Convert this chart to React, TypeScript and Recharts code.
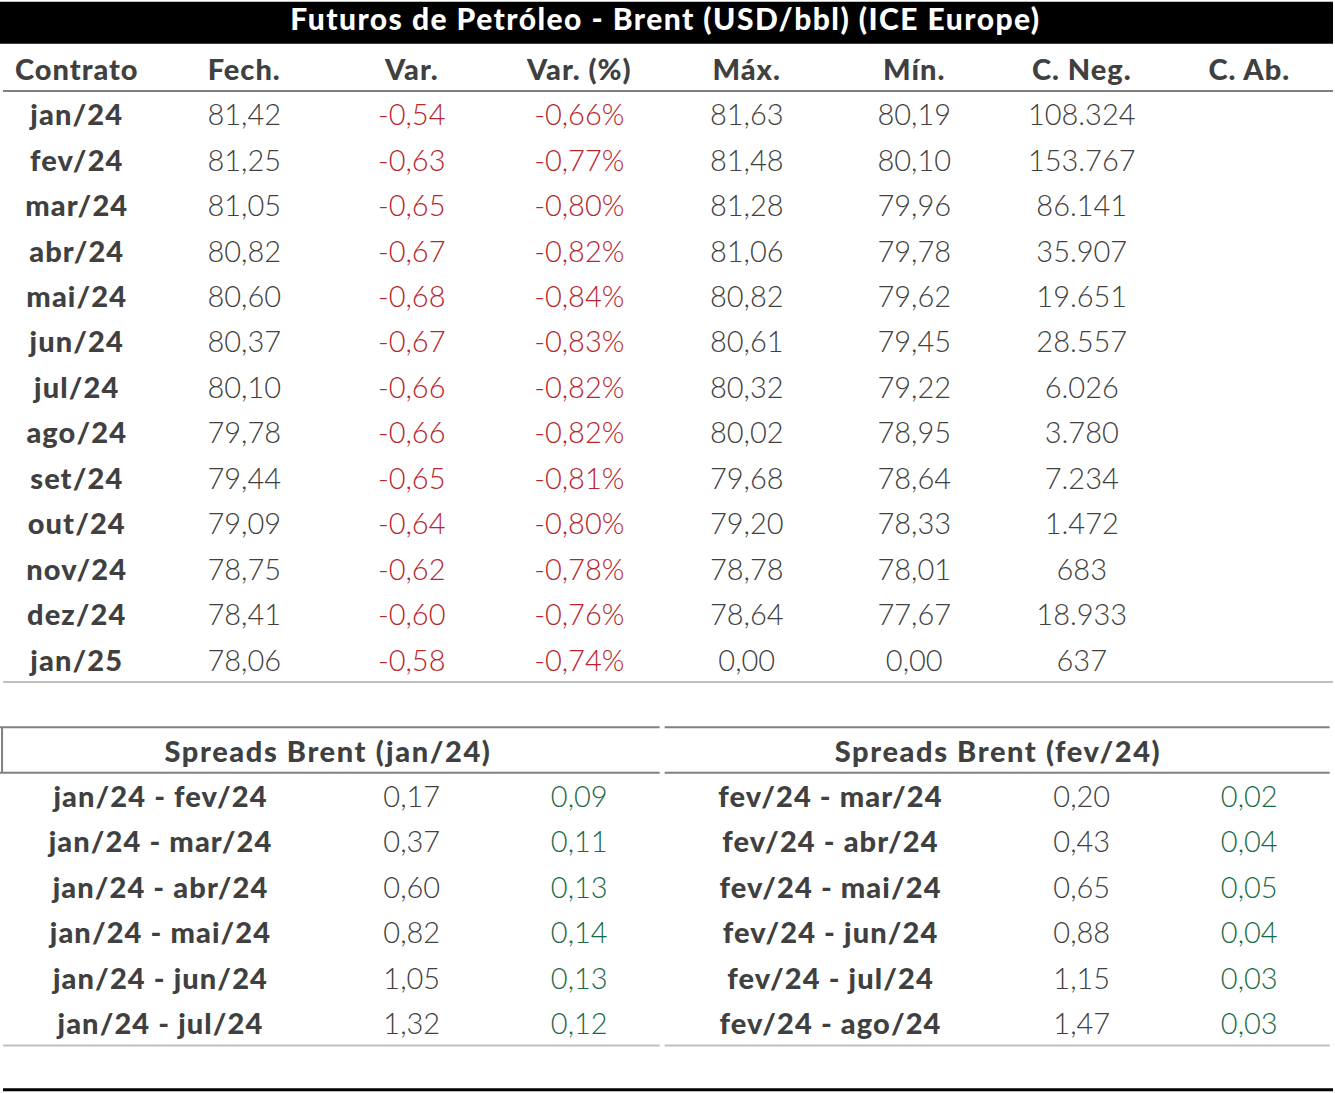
import { ReferenceArea, ReferenceLine, Scatter, ScatterChart, XAxis, YAxis } from 'recharts';

const title = 'Futuros de Petróleo - Brent (USD/bbl) (ICE Europe)';
const columns = ['Contrato', 'Fech.', 'Var.', 'Var. (%)', 'Máx.', 'Mín.', 'C. Neg.', 'C. Ab.'];
const contracts = ['jan/24', 'fev/24', 'mar/24', 'abr/24', 'mai/24', 'jun/24', 'jul/24', 'ago/24', 'set/24', 'out/24', 'nov/24', 'dez/24', 'jan/25'];
const closes = [81.42, 81.25, 81.05, 80.82, 80.6, 80.37, 80.1, 79.78, 79.44, 79.09, 78.75, 78.41, 78.06];
const changes = [-0.54, -0.63, -0.65, -0.67, -0.68, -0.67, -0.66, -0.66, -0.65, -0.64, -0.62, -0.6, -0.58];
const changesPct = [-0.66, -0.77, -0.8, -0.82, -0.84, -0.83, -0.82, -0.82, -0.81, -0.8, -0.78, -0.76, -0.74];
const highs = [81.63, 81.48, 81.28, 81.06, 80.82, 80.61, 80.32, 80.02, 79.68, 79.2, 78.78, 78.64, 0];
const lows = [80.19, 80.1, 79.96, 79.78, 79.62, 79.45, 79.22, 78.95, 78.64, 78.33, 78.01, 77.67, 0];
const volumes = [108324, 153767, 86141, 35907, 19651, 28557, 6026, 3780, 7234, 1472, 683, 18933, 637];

const spreadTitles = ['Spreads Brent (jan/24)', 'Spreads Brent (fev/24)'];
const spreadsJan = ['jan/24 - fev/24', 'jan/24 - mar/24', 'jan/24 - abr/24', 'jan/24 - mai/24', 'jan/24 - jun/24', 'jan/24 - jul/24'];
const spreadsJanValues = [0.17, 0.37, 0.6, 0.82, 1.05, 1.32];
const spreadsJanChanges = [0.09, 0.11, 0.13, 0.14, 0.13, 0.12];
const spreadsFev = ['fev/24 - mar/24', 'fev/24 - abr/24', 'fev/24 - mai/24', 'fev/24 - jun/24', 'fev/24 - jul/24', 'fev/24 - ago/24'];
const spreadsFevValues = [0.2, 0.43, 0.65, 0.88, 1.15, 1.47];
const spreadsFevChanges = [0.02, 0.04, 0.05, 0.04, 0.03, 0.03];

const TEXT = '#404040';
const RED = '#b8262c';
const GREEN = '#1a6a45';
const FONT = 'Lato, "Open Sans", sans-serif';

type Cell = { x: number; y: number; text: string };

const br = (v: number) => v.toFixed(2).replace('.', ',');
const thousands = (v: number) => String(v).replace(/\B(?=(\d{3})+(?!\d))/g, '.');

// x = coluna (centro da coluna em c + 0.5), y = linha (centro em r + 0.5)
const col = (values: string[], c: number, firstRow: number): Cell[] =>
  values.map((text, i) => ({ x: c, y: firstRow + i + 0.5, text }));

const headerCells = columns.map((text, i) => ({ x: i + 0.5, y: 1.5, text }));
const plainCells = [
  ...col(closes.map(br), 1.5, 2),
  ...col(highs.map(br), 4.5, 2),
  ...col(lows.map(br), 5.5, 2),
  ...col(volumes.map(thousands), 6.5, 2),
  ...col(spreadsJanValues.map(br), 2.5, 17),
  ...col(spreadsFevValues.map(br), 6.5, 17),
];
const redCells = [...col(changes.map(br), 2.5, 2), ...col(changesPct.map((v) => br(v) + '%'), 3.5, 2)];
const greenCells = [...col(spreadsJanChanges.map(br), 3.5, 17), ...col(spreadsFevChanges.map(br), 7.5, 17)];
const labelCells = [...col(contracts, 0.5, 2), ...col(spreadsJan, 1, 17), ...col(spreadsFev, 5, 17)];
const spreadTitleCells = [
  { x: 2, y: 16.5, text: spreadTitles[0] },
  { x: 6, y: 16.5, text: spreadTitles[1] },
];

const textShape = (fill: string, weight: number, spacing = 0) => (props: any) => (
  <text
    x={props.cx}
    y={props.cy}
    textAnchor="middle"
    dominantBaseline="central"
    fill={fill}
    fontWeight={weight}
    fontSize={29}
    letterSpacing={spacing}
    fontFamily={FONT}
  >
    {props.payload.text}
  </text>
);

export default function App() {
  return (
    <div style={{ position: 'absolute', left: -7, top: 0, width: 1340, height: 1093 }}>
      <ScatterChart width={1340} height={1093} margin={{ top: 0, right: 0, bottom: 2, left: 0 }}>
        <XAxis type="number" dataKey="x" domain={[0, 8]} tickCount={9} allowDataOverflow hide />
        <YAxis type="number" dataKey="y" domain={[0, 24]} tickCount={25} allowDataOverflow reversed hide />

        <ReferenceArea
          x1={0.03}
          x2={8}
          y1={0.04}
          y2={0.96}
          fill="#000"
          fillOpacity={1}
          stroke="none"
          label={{
            value: title,
            position: 'center',
            fill: '#fff',
            fontSize: 30,
            fontWeight: 900,
            letterSpacing: 1.45,
            fontFamily: FONT,
            dy: -3,
          }}
        />

        <ReferenceLine segment={[{ x: 0.06, y: 2 }, { x: 8, y: 2 }]} stroke="#7f7f7f" strokeWidth={2} />
        <ReferenceLine segment={[{ x: 0.06, y: 15 }, { x: 8, y: 15 }]} stroke="#bfbfbf" strokeWidth={2} />
        <ReferenceLine segment={[{ x: 0.04, y: 16 }, { x: 3.98, y: 16 }]} stroke="#808080" strokeWidth={2} />
        <ReferenceLine segment={[{ x: 4.01, y: 16 }, { x: 7.98, y: 16 }]} stroke="#808080" strokeWidth={2} />
        <ReferenceLine segment={[{ x: 0.04, y: 17 }, { x: 3.98, y: 17 }]} stroke="#808080" strokeWidth={2} />
        <ReferenceLine segment={[{ x: 4.01, y: 17 }, { x: 7.98, y: 17 }]} stroke="#808080" strokeWidth={2} />
        <ReferenceLine segment={[{ x: 0.054, y: 16 }, { x: 0.054, y: 17 }]} stroke="#808080" strokeWidth={2} />
        <ReferenceLine segment={[{ x: 0.06, y: 23 }, { x: 3.98, y: 23 }]} stroke="#bfbfbf" strokeWidth={2} />
        <ReferenceLine segment={[{ x: 4.01, y: 23 }, { x: 7.98, y: 23 }]} stroke="#bfbfbf" strokeWidth={2} />
        <ReferenceLine segment={[{ x: 0.06, y: 23.97 }, { x: 8, y: 23.97 }]} stroke="#000" strokeWidth={3} />

        <Scatter data={headerCells} shape={textShape(TEXT, 900, 1)} isAnimationActive={false} />
        <Scatter data={labelCells} shape={textShape(TEXT, 900, 1.1)} isAnimationActive={false} />
        <Scatter data={spreadTitleCells} shape={textShape(TEXT, 900, 1.6)} isAnimationActive={false} />
        <Scatter data={plainCells} shape={textShape(TEXT, 300)} isAnimationActive={false} />
        <Scatter data={redCells} shape={textShape(RED, 300)} isAnimationActive={false} />
        <Scatter data={greenCells} shape={textShape(GREEN, 300)} isAnimationActive={false} />
      </ScatterChart>
    </div>
  );
}
